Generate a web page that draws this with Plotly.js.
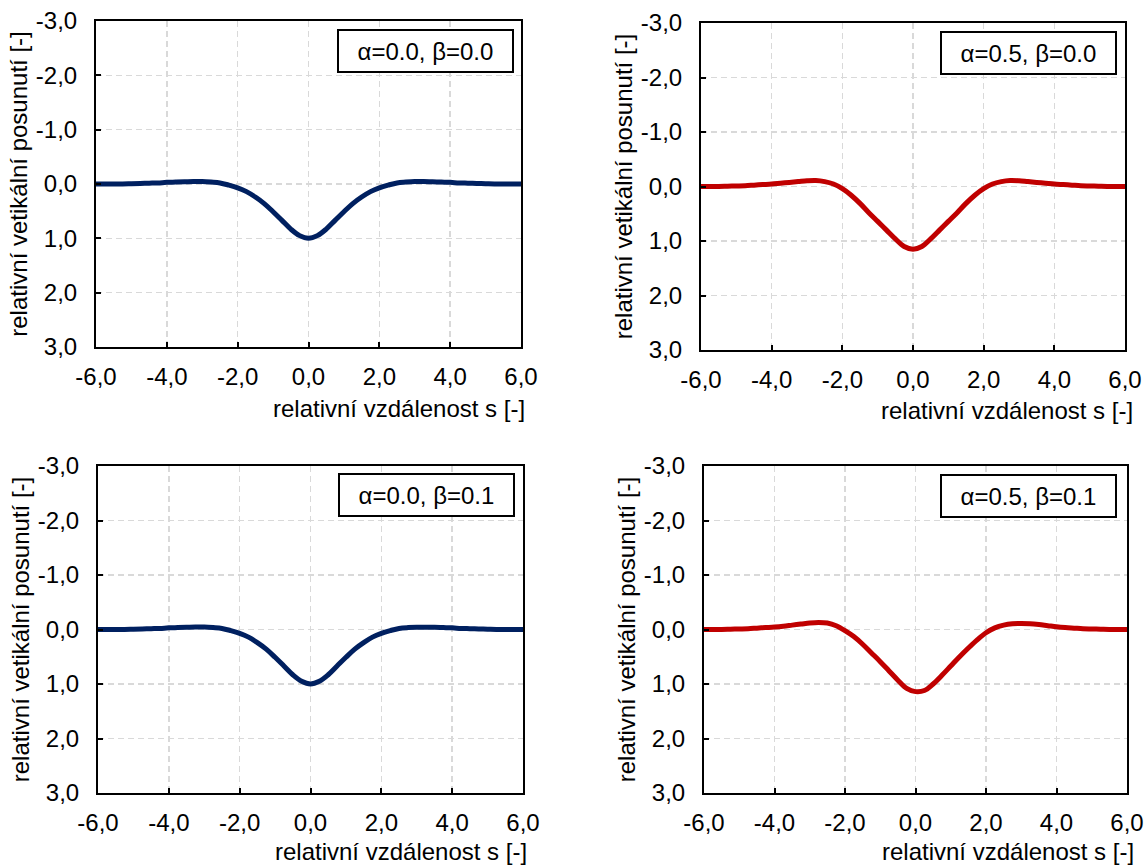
<!DOCTYPE html>
<html>
<head>
<meta charset="utf-8">
<script src="https://cdn.plot.ly/plotly-3.0.1.min.js"></script>
<style>
  html, body { margin: 0; padding: 0; background: #fff; }
  #chart { width: 1146px; height: 865px; }
</style>
</head>
<body>
<div id="chart"></div>
<script>
// ---- data ----
const sValues = [-6,-5.75,-5.5,-5.25,-5,-4.75,-4.5,-4.25,-4,-3.75,-3.5,-3.25,-3,-2.75,-2.5,-2.25,-2,-1.75,-1.5,-1.25,-1,-0.75,-0.5,-0.25,0,
                 0.25,0.5,0.75,1,1.25,1.5,1.75,2,2.25,2.5,2.75,3,3.25,3.5,3.75,4,4.25,4.5,4.75,5,5.25,5.5,5.75,6];

// alpha=0.0, beta=0.0
const wA0B0 = [0,0,0,0,-0.005,-0.01,-0.015,-0.02,-0.03,-0.035,-0.04,-0.045,-0.045,-0.035,-0.02,0.02,0.07,0.14,0.24,0.36,0.51,0.67,0.83,0.95,1.00,
               0.95,0.83,0.67,0.51,0.36,0.24,0.14,0.07,0.02,-0.02,-0.035,-0.045,-0.045,-0.04,-0.035,-0.03,-0.02,-0.015,-0.01,-0.005,0,0,0,0];
// alpha=0.5, beta=0.0
const wA5B0 = [0,0,0,-0.005,-0.01,-0.015,-0.025,-0.035,-0.045,-0.06,-0.075,-0.09,-0.105,-0.11,-0.09,-0.045,0.04,0.16,0.31,0.48,0.64,0.80,0.96,1.10,1.15,
               1.10,0.96,0.80,0.64,0.48,0.31,0.16,0.04,-0.045,-0.09,-0.11,-0.105,-0.09,-0.075,-0.06,-0.045,-0.035,-0.025,-0.015,-0.01,-0.005,0,0,0];
// alpha=0.0, beta=0.1
const wA0B1 = [0,0,0,0,-0.005,-0.01,-0.015,-0.02,-0.03,-0.035,-0.04,-0.045,-0.045,-0.035,-0.02,0.02,0.07,0.14,0.24,0.36,0.51,0.67,0.83,0.95,1.00,
               0.95,0.83,0.67,0.51,0.36,0.24,0.14,0.07,0.02,-0.02,-0.035,-0.04,-0.04,-0.04,-0.035,-0.03,-0.02,-0.015,-0.01,-0.005,0,0,0,0];
// alpha=0.5, beta=0.1
const wA5B1 = [0,0,0,-0.005,-0.01,-0.015,-0.025,-0.035,-0.045,-0.06,-0.08,-0.1,-0.12,-0.13,-0.12,-0.07,0.02,0.13,0.27,0.43,0.59,0.76,0.93,1.08,1.14,
               1.12,1.00,0.84,0.67,0.50,0.34,0.19,0.06,-0.03,-0.08,-0.105,-0.11,-0.105,-0.09,-0.07,-0.05,-0.035,-0.025,-0.015,-0.01,-0.005,0,0,0];

const panelLabels = ['α=0.0, β=0.0', 'α=0.5, β=0.0', 'α=0.0, β=0.1', 'α=0.5, β=0.1'];
const panelColors = ['#002060', '#C00000', '#002060', '#C00000'];
const panelSeries = [wA0B0, wA5B0, wA0B1, wA5B1];

const xTickVals = [-6,-4,-2,0,2,4,6];
const xTickLabels = ['-6,0','-4,0','-2,0','0,0','2,0','4,0','6,0'];
const yTickVals = [-3,-2,-1,0,1,2,3];
const yTickLabels = ['-3,0','-2,0','-1,0','0,0','1,0','2,0','3,0'];

const xTitle = 'relativní vzdálenost s [-]';
const yTitle = 'relativní vetikální posunutí [-]';

// ---- layout geometry (pixels) ----
const W = 1146, H = 865;
const FONT = 'Liberation Sans, Arial, sans-serif';
const FS = 24;
const plots = [
  {l: 96,  r: 521,  t: 21,  b: 347, box: [425, 51],  xt: [526, 408]},
  {l: 701, r: 1125, t: 23,  b: 350, box: [1028, 53], xt: [1134, 410]},
  {l: 98,  r: 523,  t: 466, b: 793, box: [426, 495], xt: [528, 851]},
  {l: 704, r: 1127, t: 466, b: 793, box: [1028, 496], xt: [1135, 851]}
];

const traces = [];
const layout = {
  width: W, height: H,
  margin: {l: 0, r: 0, t: 0, b: 0},
  paper_bgcolor: '#fff', plot_bgcolor: '#fff',
  showlegend: false,
  font: {family: FONT, size: FS, color: '#000'},
  annotations: []
};

plots.forEach((p, i) => {
  const n = i + 1;
  const xa = 'xaxis' + (n === 1 ? '' : n);
  const ya = 'yaxis' + (n === 1 ? '' : n);
  const xr = 'x' + (n === 1 ? '' : n);
  const yr = 'y' + (n === 1 ? '' : n);
  traces.push({
    x: sValues, y: panelSeries[i], xaxis: xr, yaxis: yr,
    type: 'scatter', mode: 'lines',
    line: {color: panelColors[i], width: 5, shape: 'spline', smoothing: 1}
  });
  const common = {
    showline: true, linecolor: '#000', linewidth: 2, mirror: true,
    ticks: 'inside', ticklen: 5, tickwidth: 2, tickcolor: '#000',
    showgrid: true, gridcolor: '#d9d9d9', gridwidth: 1.5, griddash: '6px,4px',
    zeroline: false, fixedrange: true,
    tickfont: {family: FONT, size: FS, color: '#000'}
  };
  layout[xa] = Object.assign({}, common, {
    domain: [p.l / W, p.r / W], anchor: yr,
    range: [-6, 6], tickmode: 'array', tickvals: xTickVals, ticktext: xTickLabels,
    ticklabelstandoff: 7
  });
  layout[ya] = Object.assign({}, common, {
    domain: [1 - p.b / H, 1 - p.t / H], anchor: xr,
    range: [3, -3], tickmode: 'array', tickvals: yTickVals, ticktext: yTickLabels,
    ticklabelstandoff: 12,
    title: {text: yTitle, font: {family: FONT, size: FS, color: '#000'}, standoff: 1}
  });
  layout.annotations.push({
    xref: 'paper', yref: 'paper', x: p.box[0] / W, y: 1 - p.box[1] / H,
    xanchor: 'center', yanchor: 'middle', showarrow: false,
    text: panelLabels[i], font: {family: FONT, size: FS, color: '#000'},
    width: 173, height: 40, borderpad: 0,
    bordercolor: '#000', borderwidth: 2, bgcolor: '#fff', align: 'center'
  });
  layout.annotations.push({
    xref: 'paper', yref: 'paper', x: p.xt[0] / W, y: 1 - p.xt[1] / H,
    xanchor: 'right', yanchor: 'middle', showarrow: false, borderpad: 0,
    text: xTitle, font: {family: FONT, size: FS, color: '#000'}
  });
});

Plotly.newPlot('chart', traces, layout, {displayModeBar: false, staticPlot: true});
</script>
</body>
</html>
